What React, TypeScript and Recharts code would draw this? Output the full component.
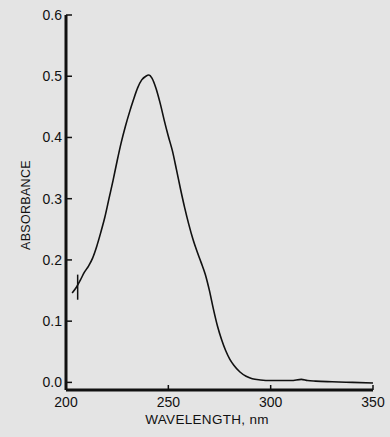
import React from "react";
import {
  LineChart,
  Line,
  XAxis,
  YAxis,
  ReferenceLine,
  Label,
} from "recharts";

// wavelength (nm)
const wavelengths = [
  203, 205, 207, 209, 211, 213, 215, 217, 219, 221, 223, 225, 227, 229, 231,
  233, 235, 237, 239, 240.5, 242, 244, 246, 248, 250, 252, 254, 256, 258, 260,
  262, 264, 266, 268, 270, 272, 274, 276, 278, 280, 282, 285, 288, 291, 295,
  300, 305, 310, 315, 318, 322, 330, 340, 350,
];
// absorbance at each wavelength
const absorbance = [
  0.146, 0.155, 0.167, 0.18, 0.19, 0.203, 0.222, 0.245, 0.27, 0.3, 0.33, 0.362,
  0.392, 0.418, 0.441, 0.462, 0.481, 0.494, 0.5, 0.502, 0.497, 0.48, 0.456,
  0.428, 0.402, 0.378, 0.347, 0.315, 0.285, 0.258, 0.234, 0.214, 0.196, 0.177,
  0.151, 0.12, 0.092, 0.07, 0.052, 0.038, 0.028, 0.017, 0.01, 0.006, 0.004,
  0.003, 0.003, 0.003, 0.005, 0.003, 0.002, 0.001, 0.0, -0.001,
];

const xTicks = [200, 250, 300, 350];
const yTicks = [0, 0.1, 0.2, 0.3, 0.4, 0.5, 0.6];

// small pen mark crossing the start of the trace
const markWavelength = 205.7;
const markLow = 0.135;
const markHigh = 0.176;

const data = wavelengths.map((w, i) => ({ wavelength: w, absorbance: absorbance[i] }));

const INK = "#111";
const FONT = "'Liberation Sans', Arial, sans-serif";

const App = () => (
  <div
    style={{
      position: "absolute",
      left: 0,
      top: 0,
      width: 390,
      height: 437,
      background: "#e4e4e4",
    }}
  >
    <LineChart
      width={390}
      height={437}
      data={data}
      margin={{ top: 15, right: 17, bottom: 0, left: 0 }}
    >
      <XAxis
        dataKey="wavelength"
        type="number"
        domain={[200, 350]}
        ticks={xTicks}
        height={47}
        axisLine={{ stroke: INK, strokeWidth: 3 }}
        tickLine={{ stroke: INK, strokeWidth: 1.5 }}
        tickSize={-5}
        tickMargin={12}
        tick={{ fill: INK, fontSize: 14, fontFamily: FONT }}
      >
        <Label
          content={() => (
            <text
              x={207}
              y={424}
              textAnchor="middle"
              fill={INK}
              fontSize={13.5}
              fontFamily={FONT}
              letterSpacing={0.3}
            >
              WAVELENGTH, nm
            </text>
          )}
        />
      </XAxis>
      <YAxis
        type="number"
        domain={[0, 0.6]}
        ticks={yTicks}
        width={66}
        padding={{ bottom: 7 }}
        tickFormatter={(v: number) => v.toFixed(1)}
        axisLine={{ stroke: INK, strokeWidth: 3 }}
        tickLine={{ stroke: INK, strokeWidth: 1.5 }}
        tickSize={-6}
        tickMargin={10}
        tick={{ fill: INK, fontSize: 14, fontFamily: FONT }}
      >
        <Label
          content={() => (
            <text
              x={30}
              y={205}
              transform="rotate(-90 30 205)"
              textAnchor="middle"
              fill={INK}
              fontSize={12.5}
              fontFamily={FONT}
              letterSpacing={0.3}
            >
              ABSORBANCE
            </text>
          )}
        />
      </YAxis>
      <ReferenceLine
        segment={[
          { x: markWavelength, y: markLow },
          { x: markWavelength, y: markHigh },
        ]}
        stroke={INK}
        strokeWidth={1.5}
      />
      <Line
        type="monotone"
        dataKey="absorbance"
        stroke={INK}
        strokeWidth={1.6}
        dot={false}
        isAnimationActive={false}
      />
    </LineChart>
  </div>
);

export default App;
